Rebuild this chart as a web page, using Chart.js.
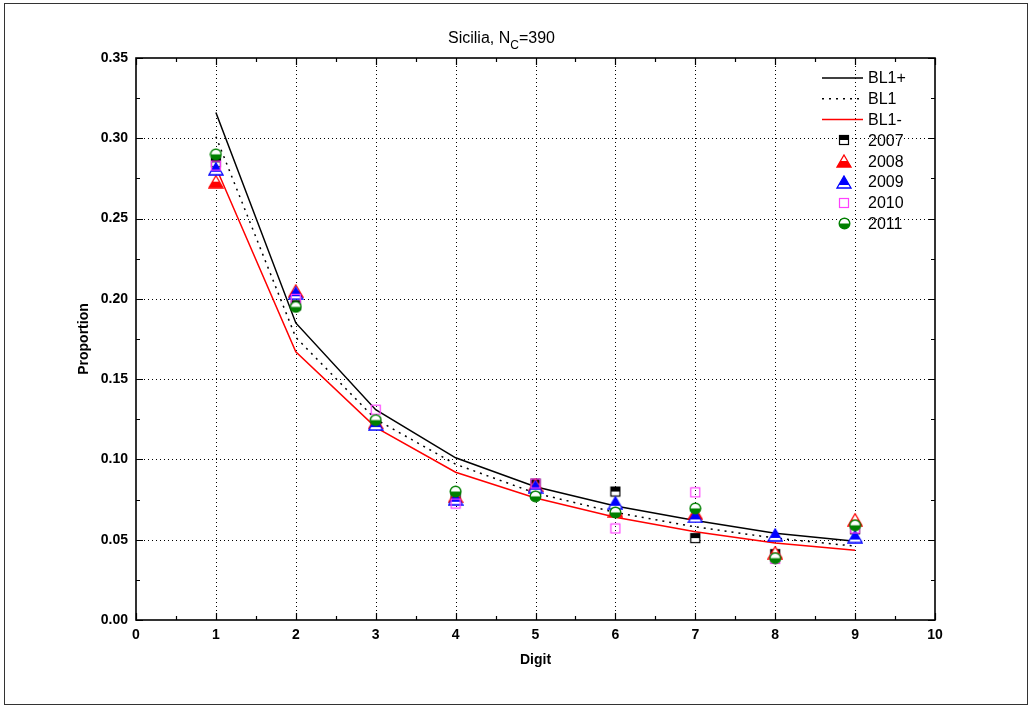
<!DOCTYPE html>
<html>
<head>
<meta charset="utf-8">
<script src="https://cdn.jsdelivr.net/npm/chart.js@4.4.1/dist/chart.umd.min.js"></script>
<style>
    html, body { margin: 0; padding: 0; background: #fff; }
    #wrap { position: relative; width: 1032px; height: 707px; }
    #frame { position: absolute; left: 4px; top: 3px; width: 1022px; height: 700px; border: 1px solid #333; pointer-events: none; }
    canvas { position: absolute; left: 0; top: 0; }
</style>
</head>
<body>
<div id="wrap">
    <canvas id="benfordChart" width="1032" height="707"></canvas>
    <div id="frame"></div>
</div>
<script>
// Data
const digits = [1, 2, 3, 4, 5, 6, 7, 8, 9];
const bl1Plus = [0.316, 0.185, 0.131, 0.101, 0.083, 0.071, 0.062, 0.054, 0.049];
const bl1 = [0.301, 0.176, 0.125, 0.097, 0.079, 0.067, 0.058, 0.051, 0.046];
const bl1Minus = [0.282, 0.167, 0.120, 0.092, 0.076, 0.064, 0.055, 0.048, 0.0435];
const y2007 = [0.285, 0.196, 0.123, 0.078, 0.085, 0.080, 0.051, 0.041, 0.0565];
const y2008 = [0.273, 0.205, 0.123, 0.077, 0.084, 0.068, 0.0665, 0.042, 0.0625];
const y2009 = [0.281, 0.2035, 0.122, 0.0755, 0.083, 0.073, 0.0645, 0.053, 0.052];
const y2010 = [0.283, 0.200, 0.131, 0.0725, 0.085, 0.057, 0.0795, 0.038, 0.057];
const y2011 = [0.290, 0.195, 0.1245, 0.080, 0.077, 0.067, 0.0695, 0.0385, 0.059];
const xTicks = [0, 1, 2, 3, 4, 5, 6, 7, 8, 9, 10];
const yTicks = [0, 0.05, 0.10, 0.15, 0.20, 0.25, 0.30, 0.35];

const FONT = "'Liberation Sans', Arial, Helvetica, sans-serif";
Chart.defaults.font.family = FONT;
Chart.defaults.color = '#000';

function toPoints(ys) {
    return digits.map((d, i) => ({ x: d, y: ys[i] }));
}

// Half-filled marker images (Origin style)
function makeMarker(w, h, drawFn) {
    const c = document.createElement('canvas');
    c.width = w;
    c.height = h;
    drawFn(c.getContext('2d'), w, h);
    return c;
}

const sq2007 = makeMarker(12, 12, (ctx, w, h) => {
    ctx.fillStyle = '#fff';
    ctx.fillRect(1, 1, 10, 10);
    ctx.fillStyle = '#000';
    ctx.fillRect(1, 1, 10, 5);
    ctx.strokeStyle = '#000';
    ctx.lineWidth = 1.2;
    ctx.strokeRect(1.5, 1.5, 9, 9);
});

function triangle(color, fillTop) {
    return makeMarker(16, 14, (ctx, w, h) => {
        ctx.beginPath();
        ctx.moveTo(8, 1);
        ctx.lineTo(15, 13);
        ctx.lineTo(1, 13);
        ctx.closePath();
        ctx.fillStyle = '#fff';
        ctx.fill();
        ctx.save();
        ctx.clip();
        ctx.fillStyle = color;
        if (fillTop) ctx.fillRect(0, 0, w, 10);
        else ctx.fillRect(0, 7, w, 7);
        ctx.restore();
        ctx.strokeStyle = color;
        ctx.lineWidth = 1.3;
        ctx.stroke();
    });
}
const tri2008 = triangle('#ff0000', false);
const tri2009 = triangle('#0000ff', true);

const sq2010 = makeMarker(12, 12, (ctx) => {
    ctx.strokeStyle = '#ff40ff';
    ctx.lineWidth = 1.2;
    ctx.strokeRect(1.5, 1.5, 9, 9);
});

const circ2011 = makeMarker(13, 13, (ctx) => {
    ctx.beginPath();
    ctx.arc(6.5, 6.5, 5.3, 0, Math.PI * 2);
    ctx.fillStyle = '#fff';
    ctx.fill();
    ctx.beginPath();
    ctx.arc(6.5, 6.5, 5.3, 0, Math.PI);
    ctx.closePath();
    ctx.fillStyle = '#008000';
    ctx.fill();
    ctx.beginPath();
    ctx.arc(6.5, 6.5, 5.3, 0, Math.PI * 2);
    ctx.strokeStyle = '#008000';
    ctx.lineWidth = 1.4;
    ctx.stroke();
});

// Title with subscript
const titlePlugin = {
    id: 'subTitle',
    afterDraw(chart) {
        const ctx = chart.ctx;
        ctx.save();
        ctx.fillStyle = '#000';
        ctx.textBaseline = 'alphabetic';
        const a = 'Sicilia, N', sub = 'C', b = '=390';
        ctx.font = '16px ' + FONT;
        const wa = ctx.measureText(a).width;
        ctx.font = '12px ' + FONT;
        const ws = ctx.measureText(sub).width;
        let x = 448;
        ctx.font = '16px ' + FONT;
        ctx.fillText(a, x, 43);
        x += wa;
        ctx.font = '12px ' + FONT;
        ctx.fillText(sub, x, 49);
        x += ws;
        ctx.font = '16px ' + FONT;
        ctx.fillText(b, x, 43);
        ctx.restore();
    }
};

// Dotted grid, frame and inward ticks on all four sides
const framePlugin = {
    id: 'frameTicks',
    beforeDatasetsDraw(chart) {
        const { ctx, chartArea: a, scales: { x, y } } = chart;
        ctx.save();
        ctx.strokeStyle = '#000';
        ctx.lineWidth = 1;
        ctx.setLineDash([1, 3]);
        xTicks.slice(1, -1).forEach(v => {
            const px = Math.round(x.getPixelForValue(v)) + 0.5;
            ctx.beginPath();
            ctx.moveTo(px, a.top);
            ctx.lineTo(px, a.bottom);
            ctx.stroke();
        });
        yTicks.slice(1, -1).forEach(v => {
            const py = Math.round(y.getPixelForValue(v)) + 0.5;
            ctx.beginPath();
            ctx.moveTo(a.left, py);
            ctx.lineTo(a.right, py);
            ctx.stroke();
        });
        ctx.restore();
    },
    afterDatasetsDraw(chart) {
        const { ctx, chartArea: a, scales: { x, y } } = chart;
        ctx.save();
        ctx.strokeStyle = '#000';
        ctx.lineWidth = 1.2;
        ctx.setLineDash([]);
        const major = 7, minor = 4;
        for (let v = 0; v <= 10.001; v += 0.5) {
            const px = Math.round(x.getPixelForValue(v)) + 0.5;
            const len = Math.abs(v - Math.round(v)) < 1e-6 ? major : minor;
            ctx.beginPath();
            ctx.moveTo(px, a.bottom); ctx.lineTo(px, a.bottom - len);
            ctx.moveTo(px, a.top); ctx.lineTo(px, a.top + len);
            ctx.stroke();
        }
        for (let i = 0; i <= 14; i++) {
            const v = i * 0.025;
            const py = Math.round(y.getPixelForValue(v)) + 0.5;
            const len = i % 2 === 0 ? major : minor;
            ctx.beginPath();
            ctx.moveTo(a.left, py); ctx.lineTo(a.left + len, py);
            ctx.moveTo(a.right, py); ctx.lineTo(a.right - len, py);
            ctx.stroke();
        }
        ctx.lineWidth = 1.6;
        ctx.strokeRect(a.left, a.top, a.right - a.left, a.bottom - a.top);
        ctx.restore();
    }
};

// Legend drawn inside the plot, top right
const legendPlugin = {
    id: 'insideLegend',
    afterDraw(chart) {
        const ctx = chart.ctx;
        const x0 = 822, x1 = 863, tx = 868, mx = 844;
        let yy = 78;
        const rowH = 20.8;
        ctx.save();
        ctx.font = '16px ' + FONT;
        ctx.textBaseline = 'middle';
        ctx.fillStyle = '#000';
        chart.data.datasets.forEach(ds => {
            if (ds.showLine) {
                ctx.save();
                ctx.strokeStyle = ds.borderColor;
                ctx.lineWidth = ds.borderWidth;
                ctx.setLineDash(ds.borderDash || []);
                ctx.beginPath();
                ctx.moveTo(x0, yy);
                ctx.lineTo(x1, yy);
                ctx.stroke();
                ctx.restore();
            } else {
                const img = ds.pointStyle;
                ctx.drawImage(img, Math.round(mx - img.width / 2), Math.round(yy - img.height / 2));
            }
            ctx.fillText(ds.label, tx, yy + 1);
            yy += rowH;
        });
        ctx.restore();
    }
};

function lineSet(label, data, color, dash) {
    return {
        label: label,
        data: toPoints(data),
        showLine: true,
        borderColor: color,
        borderWidth: 1.5,
        borderDash: dash,
        pointRadius: 0,
        fill: false,
        tension: 0,
        order: 10
    };
}

function markerSet(label, data, img, order) {
    return {
        label: label,
        data: toPoints(data),
        showLine: false,
        pointStyle: img,
        pointRadius: 6,
        order: order
    };
}

const ctx = document.getElementById('benfordChart').getContext('2d');
window.benfordChart = new Chart(ctx, {
    type: 'scatter',
    data: {
        datasets: [
            lineSet('BL1+', bl1Plus, '#000000', []),
            lineSet('BL1', bl1, '#000000', [2, 5]),
            lineSet('BL1-', bl1Minus, '#ff0000', []),
            markerSet('2007', y2007, sq2007, 5),
            markerSet('2008', y2008, tri2008, 4),
            markerSet('2009', y2009, tri2009, 3),
            markerSet('2010', y2010, sq2010, 2),
            markerSet('2011', y2011, circ2011, 1)
        ]
    },
    options: {
        responsive: false,
        animation: false,
        layout: { padding: { top: 58, right: 97, left: 0, bottom: 0 } },
        plugins: {
            legend: { display: false },
            title: { display: false },
            tooltip: { enabled: false }
        },
        scales: {
            x: {
                type: 'linear',
                min: 0,
                max: 10,
                afterFit: s => { s.height = 87; },
                afterBuildTicks: s => { s.ticks = xTicks.map(v => ({ value: v })); },
                grid: { display: false, drawTicks: false },
                border: { display: false },
                ticks: {
                    font: { size: 14, weight: 'bold' },
                    color: '#000',
                    padding: 7,
                    maxRotation: 0,
                    callback: v => String(v)
                },
                title: {
                    display: true,
                    text: 'Digit',
                    font: { size: 14, weight: 'bold' },
                    color: '#000',
                    padding: { top: 0, bottom: 38 }
                }
            },
            y: {
                type: 'linear',
                min: 0,
                max: 0.35,
                afterFit: s => { s.width = 136; },
                afterBuildTicks: s => { s.ticks = yTicks.map(v => ({ value: v })); },
                grid: { display: false, drawTicks: false },
                border: { display: false },
                ticks: {
                    font: { size: 14, weight: 'bold' },
                    color: '#000',
                    padding: 8,
                    callback: v => v.toFixed(2)
                },
                title: {
                    display: true,
                    text: 'Proportion',
                    font: { size: 14, weight: 'bold' },
                    color: '#000',
                    padding: { top: 76, bottom: 0 }
                }
            }
        }
    },
    plugins: [framePlugin, titlePlugin, legendPlugin]
});
</script>
</body>
</html>
